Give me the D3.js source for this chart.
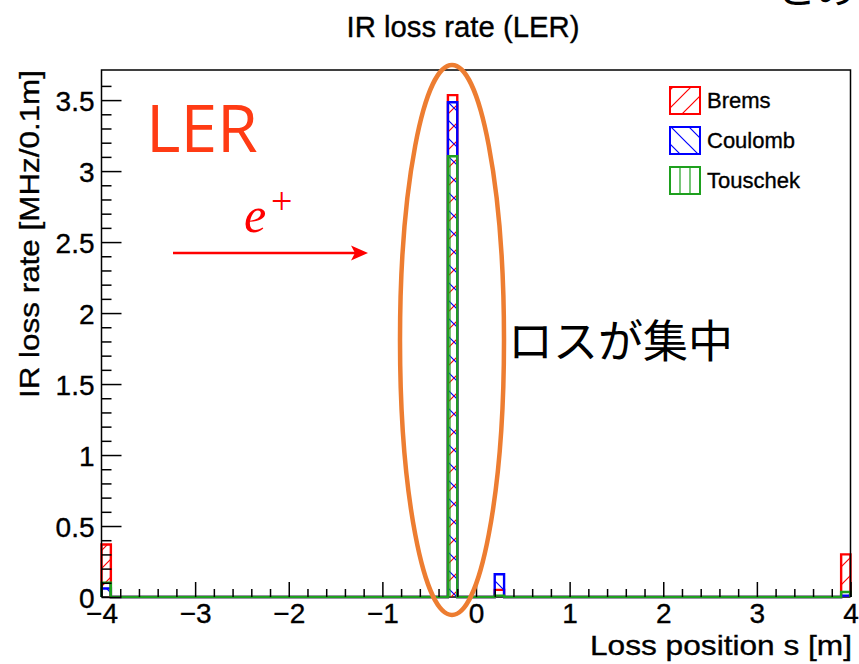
<!DOCTYPE html>
<html>
<head>
<meta charset="utf-8">
<script src="https://cdn.jsdelivr.net/npm/d3@7"></script>
<style>
  body { margin: 0; background: #fff; }
  svg { display: block; }
  .axis text, .root-text { font-family: "Liberation Sans", Arial, sans-serif; fill: #000; stroke: #000; stroke-width: 0.35px; }
</style>
</head>
<body>
<svg id="chart" width="859" height="664"></svg>
<script>
// Histogram binning (0.1 m bins over the IR region)
const binWidth = 0.1;
const xRange = [-4, 4];
const yMax = 3.712;

// Non-empty bins: lower bin edge [m] and loss rate [MHz/0.1m] per process
const binStarts      = [-4.0, -0.3, 0.2, 3.9];
const bremsValues    = [0.37, 3.535, 0.05, 0.30];
const coulombValues  = [0.06, 3.485, 0.16, 0.01];
const touschekValues = [0.10, 3.105, 0.01, 0.035];

const seriesNames  = ["Brems", "Coulomb", "Touschek"];
const seriesColors = ["#ff0000", "#0000ff", "#1ea01e"];

const xTicks = [-4, -3, -2, -1, 0, 1, 2, 3, 4];
const yTicks = [0, 0.5, 1, 1.5, 2, 2.5, 3, 3.5];

const titleText = "IR loss rate (LER)";
const xLabel = "Loss position s [m]";
const yLabel = "IR loss rate [MHz/0.1m]";

const svg = d3.select("#chart");

const frame = { left: 101.5, right: 850.5, top: 70, bottom: 597 };
const x = d3.scaleLinear().domain(xRange).range([frame.left, frame.right]);
const y = d3.scaleLinear().domain([0, yMax]).range([frame.bottom, frame.top]);

// Hatch fill patterns (ROOT-style 3004 / 3005 / vertical)
const defs = svg.append("defs");
function hatch(id, color, d, w, offX) {
  const p = defs.append("pattern").attr("id", id)
    .attr("patternUnits", "userSpaceOnUse").attr("width", w).attr("height", w)
    .attr("x", offX || 0);
  p.append("path").attr("d", d).attr("stroke", color).attr("stroke-width", 1.2).attr("fill", "none");
}
hatch("hatch-brems", seriesColors[0], "M0,18 L18,0 M-3,3 L3,-3 M15,21 L21,15", 18, 4);
hatch("hatch-coulomb", seriesColors[1], "M0,0 L18,18 M-3,15 L3,21 M15,-3 L21,3", 18, 4);
hatch("hatch-touschek", seriesColors[2], "M5,0 L5,10", 10, 5);
const patternIds = ["hatch-brems", "hatch-coulomb", "hatch-touschek"];

// Expand sparse bins into the full histogram
const nBins = Math.round((xRange[1] - xRange[0]) / binWidth);
function fullHist(values) {
  const bins = [];
  for (let i = 0; i < nBins; i++) {
    const lo = +(xRange[0] + i * binWidth).toFixed(2);
    const k = binStarts.findIndex(b => Math.abs(b - lo) < 1e-6);
    bins.push({ lo: lo, hi: +(lo + binWidth).toFixed(2), v: k >= 0 ? values[k] : 0 });
  }
  return bins;
}
const hists = [bremsValues, coulombValues, touschekValues].map(fullHist);

// Bottom edge of the frame sits under the histogram outlines
svg.append("line").attr("x1", frame.left).attr("x2", frame.right)
  .attr("y1", frame.bottom).attr("y2", frame.bottom)
  .attr("stroke", "#000").attr("stroke-width", 1.5);

const plot = svg.append("g");
hists.forEach((bins, s) => {
  const g = plot.append("g");
  g.selectAll("rect").data(bins.filter(b => b.v > 0)).join("rect")
    .attr("x", b => x(b.lo)).attr("width", b => x(b.hi) - x(b.lo))
    .attr("y", b => y(b.v)).attr("height", b => y(0) - y(b.v))
    .attr("fill", `url(#${patternIds[s]})`);
  let d = `M${x(xRange[0])},${y(0)}`;
  bins.forEach(b => { d += `L${x(b.lo)},${y(b.v)}L${x(b.hi)},${y(b.v)}`; });
  d += `L${x(xRange[1])},${y(0)}`;
  g.append("path").attr("d", d).attr("fill", "none")
    .attr("stroke", seriesColors[s]).attr("stroke-width", 2.4);
});

// Remaining frame edges
svg.append("path")
  .attr("d", `M${frame.left},${frame.bottom}V${frame.top}H${frame.right}V${frame.bottom}`)
  .attr("fill", "none").attr("stroke", "#000").attr("stroke-width", 1.5);

// Axes: ticks point into the frame
const fmt = d3.format("");
const yMinor = d3.range(0, 37).map(i => +(i * 0.1).toFixed(1)).filter(v => !yTicks.includes(v));
const xMinor = d3.range(0, 41).map(i => +(-4 + i * 0.2).toFixed(1)).filter(v => !xTicks.includes(v));

const yAxis = svg.append("g").attr("class", "axis").attr("transform", `translate(${frame.left},0)`)
  .call(d3.axisLeft(y).tickValues(yTicks).tickSizeInner(-20).tickSizeOuter(0).tickPadding(7).tickFormat(fmt));
svg.append("g").attr("class", "axis").attr("transform", `translate(${frame.left},0)`)
  .call(d3.axisLeft(y).tickValues(yMinor).tickSizeInner(-10).tickSizeOuter(0).tickFormat(""));
const xAxis = svg.append("g").attr("class", "axis").attr("transform", `translate(0,${frame.bottom})`)
  .call(d3.axisBottom(x).tickValues(xTicks).tickSizeInner(-15).tickSizeOuter(0).tickPadding(5).tickFormat(fmt));
svg.append("g").attr("class", "axis").attr("transform", `translate(0,${frame.bottom})`)
  .call(d3.axisBottom(x).tickValues(xMinor).tickSizeInner(-8).tickSizeOuter(0).tickFormat(""));
svg.selectAll(".axis .domain").remove();
svg.selectAll(".axis line").attr("stroke", "#000").attr("stroke-width", 1.5);
yAxis.selectAll("text").attr("font-size", 28).attr("dy", "0.36em");
xAxis.selectAll("text").attr("font-size", 28).attr("dy", "0.76em");

// Titles
svg.append("text").attr("class", "root-text").attr("x", 463).attr("y", 37).attr("text-anchor", "middle")
  .attr("font-size", 29)
  .attr("textLength", 233).attr("lengthAdjust", "spacingAndGlyphs").text(titleText);
svg.append("text").attr("class", "root-text").attr("x", 852).attr("y", 655).attr("text-anchor", "end")
  .attr("font-size", 28)
  .attr("textLength", 262).attr("lengthAdjust", "spacingAndGlyphs").text(xLabel);
svg.append("text").attr("class", "root-text").attr("transform", "translate(39,70) rotate(-90)").attr("text-anchor", "end")
  .attr("font-size", 28)
  .attr("textLength", 328).attr("lengthAdjust", "spacingAndGlyphs").text(yLabel);

// Legend
const legend = svg.append("g");
seriesNames.forEach((name, i) => {
  const yy = 87 + i * 40;
  legend.append("rect").attr("x", 670).attr("y", yy).attr("width", 30).attr("height", 27)
    .attr("fill", `url(#${patternIds[i]})`).attr("stroke", seriesColors[i]).attr("stroke-width", 2);
  legend.append("text").attr("class", "root-text").attr("x", 707).attr("y", yy + 21)
    .attr("font-size", 22).text(name);
});

// Annotations
svg.append("ellipse").attr("cx", 452).attr("cy", 340).attr("rx", 52).attr("ry", 275)
  .attr("fill", "none").attr("stroke", "#ed7d31").attr("stroke-width", 4.5);

svg.append("text").attr("x", 146).attr("y", 152)
  .attr("font-family", "'Open Sans', 'Noto Sans', sans-serif").attr("font-size", 66)
  .attr("fill", "#ff3b14").text("LER");

svg.append("text").attr("x", 244).attr("y", 232)
  .attr("font-family", "'Liberation Serif', 'DejaVu Serif', serif").attr("font-style", "italic")
  .attr("font-size", 50).attr("fill", "#ff0000").text("e");
svg.append("text").attr("x", 271).attr("y", 214)
  .attr("font-family", "'Liberation Serif', 'DejaVu Serif', serif")
  .attr("font-size", 38).attr("fill", "#ff0000").text("+");

svg.append("line").attr("x1", 173).attr("y1", 253).attr("x2", 358).attr("y2", 253)
  .attr("stroke", "#ff0000").attr("stroke-width", 2.5);
svg.append("path").attr("d", "M368,253 L351,245.5 L355,253 L351,260.5 Z").attr("fill", "#ff0000");

svg.append("text").attr("x", 508).attr("y", 358)
  .attr("font-family", "'Noto Sans CJK JP', sans-serif").attr("font-size", 45)
  .attr("fill", "#000").text("ロスが集中");

svg.append("text").attr("x", 776).attr("y", 3)
  .attr("font-family", "'Noto Sans CJK JP', sans-serif").attr("font-size", 40)
  .attr("fill", "#000").text("とめ");
</script>
</body>
</html>
